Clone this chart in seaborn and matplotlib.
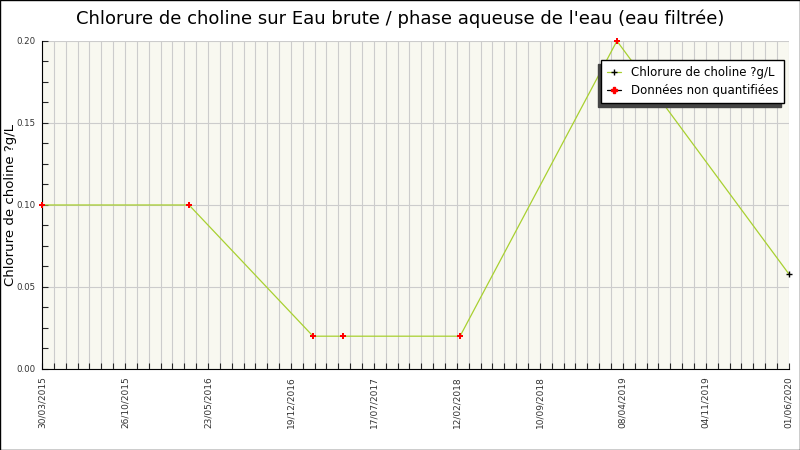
import pandas as pd
import seaborn as sns
import matplotlib.pyplot as plt
import matplotlib.dates as mdates
from matplotlib.ticker import MultipleLocator, FixedLocator

# values
dates = ["2015-03-30", "2016-04-05", "2017-02-13", "2017-04-30",
         "2018-02-20", "2019-03-24", "2020-06-01"]
values = [0.10, 0.10, 0.02, 0.02, 0.02, 0.20, 0.058]
non_quantified = [True, True, True, True, True, True, False]

tick_start = "2015-03-30"
tick_step_days = 210
n_ticks = 10

df = pd.DataFrame({"date": pd.to_datetime(dates), "value": values, "nq": non_quantified})

sns.set_style("ticks")
plt.rcParams["font.family"] = ["DejaVu Sans"]
plt.rcParams["text.color"] = "black"

fig = plt.figure(figsize=(8, 4.5), dpi=100)
ax = fig.add_axes([0.0525, 0.18, 0.9335, 0.729])
ax.set_facecolor("#f8f8f0")

line_color = "#a8d030"
sns.lineplot(data=df, x="date", y="value", color=line_color, linewidth=0.9, ax=ax,
             legend=False, zorder=3)
sns.scatterplot(data=df[~df["nq"]], x="date", y="value", marker="+", color="black",
                s=22, linewidth=1.0, ax=ax, legend=False, zorder=4, clip_on=False)
sns.scatterplot(data=df[df["nq"]], x="date", y="value", marker="P", color="red",
                s=22, linewidth=0, ax=ax, legend=False, zorder=4, clip_on=False)

# axes ranges and ticks
start = pd.Timestamp(tick_start)
ticks = [start + pd.Timedelta(days=tick_step_days * i) for i in range(n_ticks)]
minor = [start + pd.Timedelta(days=30 * i) for i in range(64)]
ax.set_xlim(ticks[0], ticks[-1])
ax.set_ylim(0, 0.2)
ax.xaxis.set_major_locator(FixedLocator(mdates.date2num(ticks)))
ax.xaxis.set_minor_locator(FixedLocator(mdates.date2num(minor)))
ax.xaxis.set_major_formatter(mdates.DateFormatter("%d/%m/%Y"))
ax.yaxis.set_major_locator(MultipleLocator(0.05))
ax.yaxis.set_minor_locator(MultipleLocator(0.0125))
ax.yaxis.set_major_formatter(plt.FormatStrFormatter("%.2f"))

ax.grid(which="both", axis="x", color="#cccccc", linewidth=0.8)
ax.grid(which="major", axis="y", color="#cccccc", linewidth=0.8)
ax.set_axisbelow(True)

ax.tick_params(axis="x", which="both", direction="in", length=4, width=0.8,
               labelsize=6.5, labelcolor="#333333", rotation=90, pad=5)
ax.tick_params(axis="y", which="both", direction="in", length=4, width=0.8,
               labelsize=6.2, labelcolor="#333333", pad=5)

for side in ["top", "right"]:
    ax.spines[side].set_visible(False)
ax.spines["left"].set_color("black")
ax.spines["bottom"].set_color("black")

ax.set_xlabel("")
ax.set_ylabel("Chlorure de choline ?g/L", fontsize=9.5, color="black")
ax.yaxis.set_label_coords(-0.034, 0.5)
fig.suptitle("Chlorure de choline sur Eau brute / phase aqueuse de l'eau (eau filtrée)",
             fontsize=13, x=0.5, y=0.98, color="black")

# legend
h1 = plt.Line2D([], [], color=line_color, marker="+", markeredgecolor="black",
                markersize=4, linewidth=0.9)
h2 = plt.Line2D([], [], color="black", marker="P", markerfacecolor="red",
                markeredgecolor="red", markersize=4, linewidth=0.9)
leg = ax.legend([h1, h2], ["Chlorure de choline ?g/L", "Données non quantifiées"],
                loc="upper right", bbox_to_anchor=(0.9935, 0.942), fontsize=8.5,
                frameon=True, fancybox=False,
                shadow={"ox": -2.2, "oy": -2.9, "color": "#444444", "alpha": 1},
                handlelength=1.2, borderpad=0.5, labelspacing=0.45, borderaxespad=0)
leg.get_frame().set_edgecolor("black")
leg.get_frame().set_linewidth(1.0)
leg.get_frame().set_facecolor("white")
leg.get_frame().set_alpha(1)
leg.set_zorder(10)

# outer frame of the image
fig.patches.append(plt.Rectangle((0.0006, 0.001), 0.9988, 0.998, transform=fig.transFigure,
                                 fill=False, edgecolor="black", linewidth=1.0))

fig.savefig("out.png", dpi=100)
